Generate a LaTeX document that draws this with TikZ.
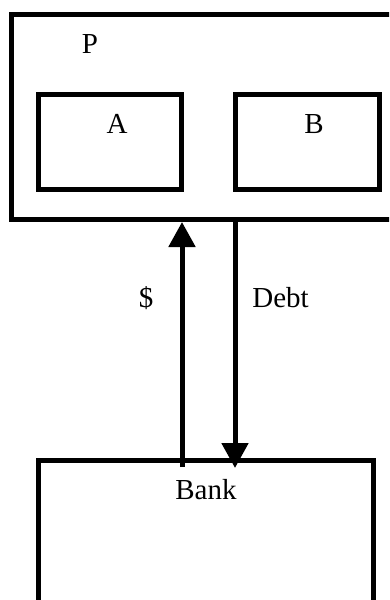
\documentclass[tikz,border=0pt]{standalone}
\usepackage{fontspec}
\setmainfont{Liberation Serif}
\usepackage{tikz}
\usetikzlibrary{arrows.meta,positioning}

\begin{document}
\begin{tikzpicture}[
  x=1pt, y=-1pt,
  box/.style={draw=black, line width=5pt, inner sep=0pt, fill=white},
  lbl/.style={anchor=base, inner sep=0pt, font=\fontsize{29}{34}\selectfont},
  flow/.style={-{Triangle[width=26pt,length=25pt]}, line width=5pt}
]
\useasboundingbox (0,0) rectangle (389,600);
\clip (0,0) rectangle (389,600);
\node[box, minimum width=385pt, minimum height=205.5pt] (firm) at (203.5,116.75) {};
\node[box, minimum width=143pt, minimum height=95pt] (unitA) at (110,142) {};
\node[box, minimum width=144.5pt, minimum height=95pt] (unitB) at (307.25,142) {};
\node[box, minimum width=335pt, minimum height=151.5pt] (bank) at (206,536.25) {};
\node[lbl] (firmlbl) at (90,53) {P};
\node[lbl] (alabel) at (117,133) {A};
\node[lbl] (blabel) at (314,133) {B};
\node[lbl] (banklbl) at (206,499) {Bank};
\node[lbl] (cashlbl) at (146,307) {\$};
\node[lbl] (debtlbl) at (280.5,307) {Debt};
\coordinate (cashfoot) at (182,467);
\coordinate (debttip) at (235,468);
\draw[flow] (cashfoot) -- (cashfoot |- firm.south);
\draw[flow] (debttip |- firm.south) -- (debttip);
\end{tikzpicture}
\end{document}
